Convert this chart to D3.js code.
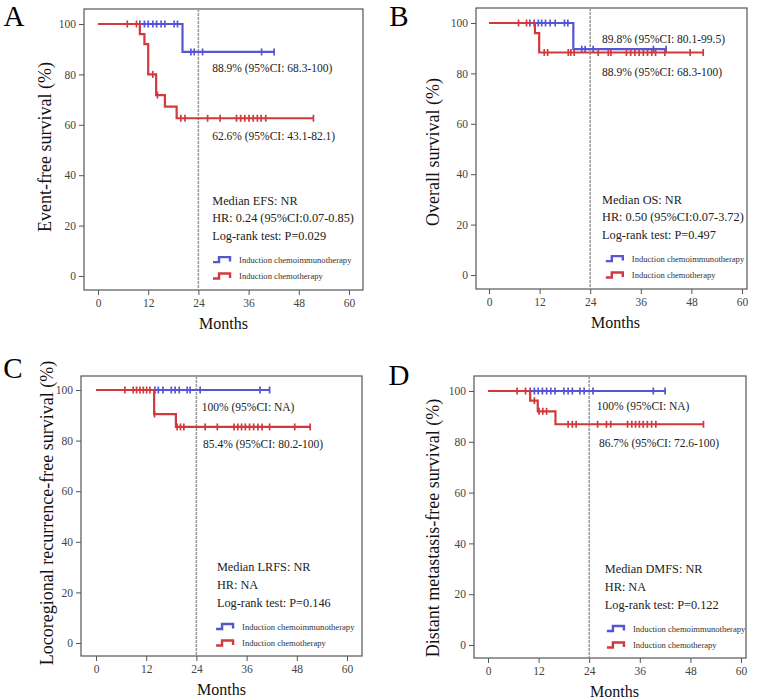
<!DOCTYPE html>
<html>
<head>
<meta charset="utf-8">
<script src="https://cdn.jsdelivr.net/npm/d3@7"></script>
<style>
  body { margin: 0; background: #fff; }
  svg text { font-family: "Liberation Serif", "Times New Roman", serif; }
</style>
</head>
<body>
<svg width="760" height="700"></svg>
<script>
const xTicks = [0, 12, 24, 36, 48, 60];
const yTicks = [0, 20, 40, 60, 80, 100];
const groups = ["Induction chemoimmunotherapy", "Induction chemotherapy"];
const panelLetters = ["A", "B", "C", "D"];
const yTitles = [
    "Event-free survival (%)",
    "Overall survival (%)",
    "Locoregional recurrence-free survival (%)",
    "Distant metastasis-free survival (%)"
];

// [month, survival %] where each curve steps
const efsImmuno = [[0, 100], [20.2, 88.9], [42.3, 88.9]];
const efsImmunoCensor = [10.0, 11.1, 12.0, 13.1, 14.0, 15.1, 16.0, 18.2, 19.0, 22.2, 23.0, 25.0, 39.1, 42.1];
const efsChemo = [[0, 100], [10.0, 96.0], [11.1, 92.0], [12.0, 80.0], [13.9, 71.8], [16.0, 67.2], [18.8, 62.6], [51.5, 62.6]];
const efsChemoCensor = [7.0, 9.2, 13.1, 14.2, 19.8, 20.8, 26.2, 29.2, 33.1, 34.1, 35.1, 36.1, 37.1, 38.1, 39.0, 40.1, 51.5];

const osImmuno = [[0, 100], [20.0, 89.6], [42.2, 89.6]];
const osImmunoCensor = [9.7, 10.7, 11.7, 12.5, 13.4, 14.5, 15.7, 17.9, 18.7, 22.0, 22.8, 24.7, 39.0, 42.0];
const osChemo = [[0, 100], [10.9, 96.0], [11.9, 88.3], [50.8, 88.3]];
const osChemoCensor = [7.0, 8.9, 13.1, 13.9, 18.8, 19.4, 20.2, 25.9, 28.3, 28.9, 32.6, 33.6, 34.6, 35.6, 36.6, 37.6, 38.6, 39.5, 41.7, 47.7, 50.8];

const lrfsImmuno = [[0, 100], [41.5, 100]];
const lrfsImmunoCensor = [14.1, 14.9, 16.0, 18.0, 18.9, 19.9, 21.8, 22.5, 24.9, 39.2, 41.5];
const lrfsChemo = [[0, 100], [13.9, 90.5], [19.1, 85.4], [51.2, 85.4]];
const lrfsChemoCensor = [6.9, 8.9, 9.7, 10.5, 11.3, 12.1, 12.9, 14.0, 19.4, 20.2, 21.0, 26.1, 29.0, 33.0, 33.9, 34.8, 35.7, 36.7, 37.7, 38.7, 39.7, 41.5, 47.5, 51.2];

const dmfsImmuno = [[0, 100], [42.0, 100]];
const dmfsImmunoCensor = [10.0, 11.0, 11.9, 12.9, 13.9, 14.9, 15.9, 18.0, 19.0, 20.0, 21.8, 22.8, 24.9, 39.2, 42.0];
const dmfsChemo = [[0, 100], [10.0, 96.2], [11.8, 92.0], [16.0, 86.9], [51.1, 86.9]];
const dmfsChemoCensor = [6.9, 8.9, 11.0, 12.1, 13.0, 13.9, 19.0, 20.0, 20.9, 26.0, 28.1, 29.1, 33.1, 34.1, 35.0, 35.9, 36.8, 37.8, 38.8, 39.8, 51.1];

const rateLabels = [
    ["88.9% (95%CI: 68.3-100)", "62.6% (95%CI: 43.1-82.1)"],
    ["89.8% (95%CI: 80.1-99.5)", "88.9% (95%CI: 68.3-100)"],
    ["100% (95%CI: NA)", "85.4% (95%CI: 80.2-100)"],
    ["100% (95%CI: NA)", "86.7% (95%CI: 72.6-100)"]
];
const statLabels = [
    ["Median EFS: NR", "HR: 0.24 (95%CI:0.07-0.85)", "Log-rank test: P=0.029"],
    ["Median OS: NR", "HR: 0.50 (95%CI:0.07-3.72)", "Log-rank test: P=0.497"],
    ["Median LRFS: NR", "HR: NA", "Log-rank test: P=0.146"],
    ["Median DMFS: NR", "HR: NA", "Log-rank test: P=0.122"]
];

const colors = ["#5656d2", "#d2393d"];

// layout of each panel (pixels) + where the annotations sit (data units)
const panels = [
    { box: [84, 9, 363, 290], xr: [98, 349], yr: [24, 276], title: [45, 147], letter: [14, 16],
      rateX: [27.3, 27.3], rateY: [82.5, 55.6], statX: 27.3, legX: 27.5,
      curves: [[efsImmuno, efsImmunoCensor], [efsChemo, efsChemoCensor]] },
    { box: [476, 8, 747, 289], xr: [489, 742], yr: [23, 275], title: [433, 152], letter: [399, 16],
      rateX: [26.8, 26.8], rateY: [93.7, 80.6], statX: 26.8, legX: 27.7,
      curves: [[osImmuno, osImmunoCensor], [osChemo, osChemoCensor]] },
    { box: [81, 376, 362, 656], xr: [96, 347], yr: [390, 643], title: [47, 513], letter: [13, 368],
      rateX: [25.3, 25.6], rateY: [93.3, 78.7], statX: 28.9, legX: 28.7,
      curves: [[lrfsImmuno, lrfsImmunoCensor], [lrfsChemo, lrfsChemoCensor]] },
    { box: [474, 376, 746, 658], xr: [488, 741], yr: [391, 645], title: [433, 528], letter: [399, 375],
      rateX: [25.8, 26.3], rateY: [94.1, 79.5], statX: 27.7, legX: 28.2,
      curves: [[dmfsImmuno, dmfsImmunoCensor], [dmfsChemo, dmfsChemoCensor]] }
];

const statY = [30, 23, 16];
const legY = [6.5, 0];

const svg = d3.select("svg");

function survivalAt(steps, t) {
    let s = steps[0][1];
    steps.forEach(p => { if (p[0] <= t) s = p[1]; });
    return s;
}

panels.forEach((p, i) => {
    const x = d3.scaleLinear().domain([0, 60]).range(p.xr);
    const y = d3.scaleLinear().domain([100, 0]).range(p.yr);
    const [bx0, by0, bx1, by1] = p.box;
    const g = svg.append("g");

    g.append("rect")
        .attr("x", bx0).attr("y", by0)
        .attr("width", bx1 - bx0).attr("height", by1 - by0)
        .attr("fill", "#fff")
        .attr("stroke", "#555")
        .attr("stroke-width", 1.2);

    // axes
    const yAxis = g.append("g")
        .attr("transform", `translate(${bx0},0)`)
        .call(d3.axisLeft(y).tickValues(yTicks).tickSize(5).tickPadding(3));
    const xAxis = g.append("g")
        .attr("transform", `translate(0,${by1})`)
        .call(d3.axisBottom(x).tickValues(xTicks).tickSize(5).tickPadding(4));
    [xAxis, yAxis].forEach(a => {
        a.select(".domain").remove();
        a.selectAll("line").attr("stroke", "#555");
        a.selectAll("text")
            .style("font-family", '"Liberation Serif", serif')
            .style("font-size", "11.5px")
            .attr("fill", "#444");
    });

    // 24-month reference line
    g.append("line")
        .attr("x1", x(24)).attr("x2", x(24))
        .attr("y1", by0).attr("y2", by1)
        .attr("stroke", "#9a9a9a")
        .attr("stroke-width", 1.5)
        .attr("stroke-dasharray", "3,1");

    // titles
    g.append("text")
        .attr("x", p.letter[0]).attr("y", p.letter[1])
        .attr("dy", "0.35em")
        .attr("text-anchor", "middle")
        .style("font-size", "29px")
        .text(panelLetters[i]);

    g.append("text")
        .attr("transform", `translate(${p.title[0]},${p.title[1]}) rotate(-90)`)
        .attr("dy", "0.35em")
        .attr("text-anchor", "middle")
        .style("font-size", "18px")
        .attr("fill", "#111")
        .text(yTitles[i]);

    g.append("text")
        .attr("x", (p.xr[0] + p.xr[1]) / 2).attr("y", by1 + 33)
        .attr("dy", "0.35em")
        .attr("text-anchor", "middle")
        .style("font-size", "16px")
        .attr("fill", "#111")
        .text("Months");

    // curves
    const line = d3.line()
        .x(d => x(d[0]))
        .y(d => y(d[1]))
        .curve(d3.curveStepAfter);

    p.curves.forEach(([steps, censor], k) => {
        g.append("path")
            .attr("d", line(steps))
            .attr("fill", "none")
            .attr("stroke", colors[k])
            .attr("stroke-width", 2.2);
        g.selectAll(null)
            .data(censor)
            .enter().append("line")
            .attr("x1", d => x(d)).attr("x2", d => x(d))
            .attr("y1", d => y(survivalAt(steps, d)) - 3.5)
            .attr("y2", d => y(survivalAt(steps, d)) + 3.5)
            .attr("stroke", colors[k])
            .attr("stroke-width", 1.7);
    });

    // survival rate labels
    rateLabels[i].forEach((t, k) => {
        g.append("text")
            .attr("x", x(p.rateX[k])).attr("y", y(p.rateY[k]))
            .attr("dy", "0.35em")
            .style("font-size", "11.5px")
            .attr("fill", "#222")
            .text(t);
    });

    statLabels[i].forEach((t, k) => {
        g.append("text")
            .attr("x", x(p.statX)).attr("y", y(statY[k]))
            .attr("dy", "0.35em")
            .style("font-size", "12.3px")
            .attr("fill", "#222")
            .text(t);
    });

    // legend
    groups.forEach((name, k) => {
        const lx = x(p.legX), ly = y(legY[k]);
        g.append("path")
            .attr("d", `M${lx},${ly + 2.5}H${lx + 6}V${ly - 2.5}H${lx + 17}V${ly + 2}`)
            .attr("fill", "none")
            .attr("stroke", colors[k])
            .attr("stroke-width", 2.4);
        g.append("text")
            .attr("x", lx + 26).attr("y", ly)
            .attr("dy", "0.35em")
            .style("font-size", "8.6px")
            .attr("fill", "#333")
            .text(name);
    });
});
</script>
</body>
</html>
